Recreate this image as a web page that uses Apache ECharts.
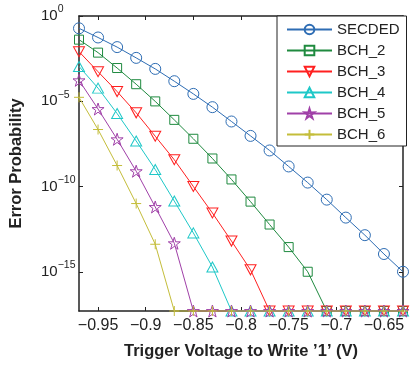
<!DOCTYPE html>
<html>
<head>
<meta charset="utf-8">
<script src="https://cdn.jsdelivr.net/npm/echarts@6/dist/echarts.min.js"></script>
<style>
  html, body { margin: 0; padding: 0; background: #fff; }
  #chart { width: 412px; height: 365px; }
</style>
</head>
<body>
<div id="chart"></div>
<script>
// trigger voltage (V)
const voltages = [-0.97, -0.95, -0.93, -0.91, -0.89, -0.87, -0.85, -0.83, -0.81,
  -0.79, -0.77, -0.75, -0.73, -0.71, -0.69, -0.67, -0.65, -0.63];

// values below the plot floor are drawn on the bottom edge
const FLOOR = 5e-18;
const F = FLOOR;

const secded = [1.9e-1, 5.5e-2, 1.5e-2, 3.5e-3, 7.9e-4, 1.5e-4, 2.7e-5, 4.5e-6, 6.5e-7,
  9.3e-8, 1.3e-8, 1.5e-9, 1.7e-10, 1.7e-11, 1.5e-12, 1.4e-13, 1.1e-14, 1.0e-15];
const bch2 = [4.1e-2, 7.1e-3, 8.9e-4, 1.0e-4, 9.8e-6, 8.1e-7, 6.3e-8, 4.4e-9, 2.6e-10,
  1.3e-11, 5.9e-13, 2.8e-14, 1.0e-15, F, F, F, F, F];
const bch3 = [8.1e-3, 5.4e-4, 3.7e-5, 2.1e-6, 8.9e-8, 3.7e-9, 1.0e-10, 2.8e-12, 6.3e-14,
  1.3e-15, F, F, F, F, F, F, F, F];
const bch4 = [1.1e-3, 5.9e-5, 1.9e-6, 4.7e-8, 1.0e-9, 1.4e-11, 1.9e-13, 1.9e-15,
  F, F, F, F, F, F, F, F, F, F];
const bch5 = [1.7e-4, 3.5e-6, 5.9e-8, 7.9e-10, 6.3e-12, 4.7e-14,
  F, F, F, F, F, F, F, F, F, F, F, F];
const bch6 = [1.7e-5, 2.2e-7, 1.7e-9, 1.0e-11, 4.1e-14,
  F, F, F, F, F, F, F, F, F, F, F, F, F];

const xTicks = [-0.95, -0.9, -0.85, -0.8, -0.75, -0.7, -0.65];
const yTicks = [1, 1e-5, 1e-10, 1e-15];

const FONT = 'Liberation Sans, Arial, Helvetica, sans-serif';
const AXIS_COLOR = '#222';

const STAR = 'path://M10,0L12.23,6.93L19.51,6.91L13.61,11.17L15.88,18.09L10,13.8L4.12,18.09L6.39,11.17L0.49,6.91L7.77,6.93Z';
const TRI_DOWN = 'path://M0,0L10,0L5,8.66Z';
const PLUS = 'path://M5,0L5,10M0,5L10,5';

function makeSeries(name, values, color, symbol, size) {
  return {
    name: name,
    type: 'line',
    data: voltages.map((v, i) => [v, values[i]]),
    symbol: symbol,
    symbolSize: size,
    clip: false,
    lineStyle: { color: color, width: 1 },
    itemStyle: { color: 'transparent', borderColor: color, borderWidth: 1 },
    emphasis: { disabled: true },
  };
}

const chart = echarts.init(document.getElementById('chart'));

const minusFmt = (v) => String(Math.round(v * 100) / 100).replace('-', '\u2212');
const powFmt = (v) => {
  const e = Math.round(Math.log10(v));
  return '{b|10}{s|' + String(e).replace('-', '\u2212') + '}';
};

const tickStyle = { show: true, inside: true, length: 4, lineStyle: { color: AXIS_COLOR } };

chart.setOption({
  animation: false,
  backgroundColor: '#fff',
  textStyle: { fontFamily: FONT },
  grid: { left: 75, right: 9, top: 16, bottom: 45 },
  legend: {
    orient: 'vertical',
    left: 277,
    top: 16,
    padding: [6, 7, 4, 9],
    itemWidth: 45,
    itemHeight: 12,
    itemGap: 6,
    backgroundColor: '#fff',
    borderColor: AXIS_COLOR,
    borderWidth: 1,
    textStyle: { fontSize: 15, color: '#222', fontFamily: FONT, lineHeight: 15 },
    data: ['SECDED', 'BCH_2', 'BCH_3', 'BCH_4', 'BCH_5', 'BCH_6'],
  },
  xAxis: [
    {
      type: 'value',
      min: -0.97,
      max: -0.63,
      name: 'Trigger Voltage to Write \u20191\u2019 (V)',
      nameLocation: 'middle',
      nameGap: 32,
      nameTextStyle: { fontSize: 16.5, fontWeight: 'bold', color: '#222', fontFamily: FONT },
      axisLine: { show: true, lineStyle: { color: AXIS_COLOR, width: 1.5 } },
      axisTick: Object.assign({ customValues: xTicks }, tickStyle),
      axisLabel: { customValues: xTicks, formatter: minusFmt, fontSize: 16, color: '#222', margin: 7 },
      splitLine: { show: false },
    },
    {
      type: 'value',
      position: 'top',
      min: -0.97,
      max: -0.63,
      axisLine: { show: true, lineStyle: { color: AXIS_COLOR, width: 1.5 } },
      axisTick: Object.assign({ customValues: xTicks }, tickStyle),
      axisLabel: { show: false },
      splitLine: { show: false },
    },
  ],
  yAxis: [
    {
      type: 'log',
      logBase: 10,
      min: FLOOR,
      max: 1,
      name: 'Error Probability',
      nameLocation: 'middle',
      nameGap: 54,
      nameTextStyle: { fontSize: 16.5, fontWeight: 'bold', color: '#222', fontFamily: FONT },
      axisLine: { show: true, lineStyle: { color: AXIS_COLOR, width: 1.5 } },
      axisTick: Object.assign({ customValues: yTicks }, tickStyle),
      axisLabel: {
        customValues: yTicks,
        formatter: powFmt,
        align: 'left',
        margin: 38,
        rich: {
          b: { fontSize: 15, color: '#222', fontFamily: FONT },
          s: { fontSize: 10.5, color: '#222', fontFamily: FONT, verticalAlign: 'top', lineHeight: 24 },
        },
      },
      splitLine: { show: false },
    },
    {
      type: 'log',
      logBase: 10,
      position: 'right',
      min: FLOOR,
      max: 1,
      axisLine: { show: true, lineStyle: { color: AXIS_COLOR, width: 1.5 } },
      axisTick: Object.assign({ customValues: yTicks }, tickStyle),
      axisLabel: { show: false },
      splitLine: { show: false },
    },
  ],
  series: [
    makeSeries('SECDED', secded, '#2e6db4', 'circle', 11),
    makeSeries('BCH_2', bch2, '#1f8a3f', 'rect', 9),
    makeSeries('BCH_3', bch3, '#ff2020', TRI_DOWN, [11, 10]),
    makeSeries('BCH_4', bch4, '#1ec8c8', 'triangle', [11, 10]),
    makeSeries('BCH_5', bch5, '#a040a8', STAR, 12),
    makeSeries('BCH_6', bch6, '#c4bd3a', PLUS, 10),
  ],
});

window.addEventListener('resize', () => chart.resize());
</script>
</body>
</html>
